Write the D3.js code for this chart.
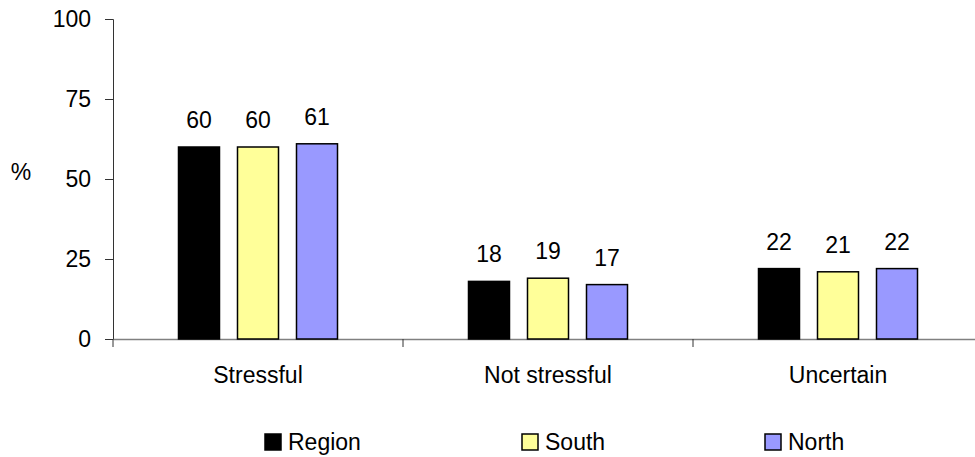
<!DOCTYPE html>
<html>
<head>
<meta charset="utf-8">
<script src="https://cdn.jsdelivr.net/npm/d3@7"></script>
<style>
  html, body { margin: 0; padding: 0; background: #fff; }
  svg { display: block; font-family: "Liberation Sans", Arial, sans-serif; }
</style>
</head>
<body>
<svg id="chart" width="975" height="457"></svg>
<script>
// Share of respondents (%) by answer and area
const categories = ["Stressful", "Not stressful", "Uncertain"];
const seriesNames = ["Region", "South", "North"];
const regionValues = [60, 18, 22];
const southValues = [60, 19, 21];
const northValues = [61, 17, 22];
const yTicks = [0, 25, 50, 75, 100];
const seriesColors = ["#000000", "#FFFF99", "#9999FF"];

const valuesBySeries = [regionValues, southValues, northValues];
const fontSize = 23;

const svg = d3.select("#chart");
const plotLeft = 113, plotRight = 983, plotTop = 19, plotBottom = 339;

const x = d3.scaleBand().domain(categories).range([plotLeft, plotRight]).padding(0);
const xSub = d3.scaleBand().domain(seriesNames).range([0, x.bandwidth()])
  .paddingInner(0.305).paddingOuter(1.11);
const y = d3.scaleLinear().domain([0, 100]).range([plotBottom, plotTop]);

// y axis
const yAxis = svg.append("g")
  .attr("transform", `translate(${plotLeft},0)`)
  .call(d3.axisLeft(y).tickValues(yTicks).tickSize(8).tickPadding(14));
yAxis.select(".domain").attr("stroke", "#333").attr("stroke-width", 1);
yAxis.selectAll(".tick line").attr("stroke", "#333");
yAxis.selectAll(".tick text")
  .attr("font-size", fontSize).attr("fill", "#000")
  .attr("font-family", "Liberation Sans, Arial, sans-serif");

// x axis
const xAxis = svg.append("g")
  .attr("transform", `translate(0,${plotBottom})`)
  .call(d3.axisBottom(x).tickSize(0).tickPadding(28));
xAxis.select(".domain").attr("stroke", "#808080").attr("stroke-width", 1.3);
xAxis.selectAll(".tick text")
  .attr("font-size", fontSize).attr("fill", "#000")
  .attr("font-family", "Liberation Sans, Arial, sans-serif");

// category separator ticks below the axis
svg.append("g").selectAll("line")
  .data(categories)
  .join("line")
  .attr("x1", d => x(d)).attr("x2", d => x(d))
  .attr("y1", plotBottom).attr("y2", plotBottom + 8)
  .attr("stroke", "#333").attr("stroke-width", 1);

// bars
const groups = svg.append("g").selectAll("g")
  .data(seriesNames)
  .join("g");

groups.each(function(name, si) {
  const g = d3.select(this);
  const data = categories.map((c, ci) => ({ c, v: valuesBySeries[si][ci] }));
  g.selectAll("rect")
    .data(data)
    .join("rect")
    .attr("x", d => x(d.c) + xSub(name))
    .attr("y", d => y(d.v))
    .attr("width", xSub.bandwidth())
    .attr("height", d => y(0) - y(d.v))
    .attr("fill", seriesColors[si])
    .attr("stroke", "#000")
    .attr("stroke-width", 1.5);
  g.selectAll("text")
    .data(data)
    .join("text")
    .attr("x", d => x(d.c) + xSub(name) + xSub.bandwidth() / 2)
    .attr("y", d => y(d.v) - 19)
    .attr("text-anchor", "middle")
    .attr("font-size", fontSize)
    .attr("fill", "#000")
    .text(d => d.v);
});

// y axis title
svg.append("text")
  .attr("x", 21).attr("y", 180)
  .attr("text-anchor", "middle")
  .attr("font-size", fontSize)
  .text("%");

// legend
const legendX = [265, 522, 765];
const legend = svg.append("g").selectAll("g")
  .data(seriesNames)
  .join("g")
  .attr("transform", (d, i) => `translate(${legendX[i]},434)`);
legend.append("rect")
  .attr("width", 16).attr("height", 16)
  .attr("fill", (d, i) => seriesColors[i])
  .attr("stroke", "#000").attr("stroke-width", 1.5);
legend.append("text")
  .attr("x", 23).attr("y", 16)
  .attr("font-size", fontSize)
  .text(d => d);
</script>
</body>
</html>
